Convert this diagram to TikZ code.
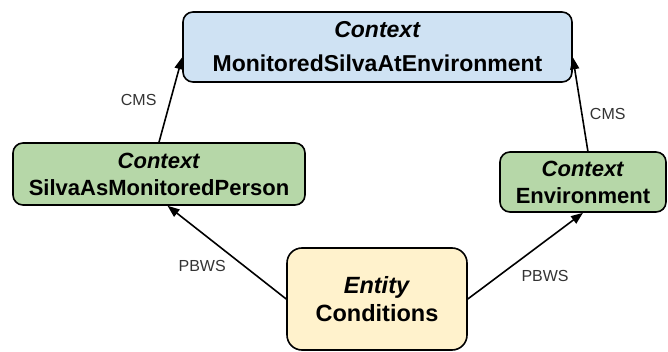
\documentclass[tikz,border=0pt]{standalone}
\usepackage{fontspec}
\setmainfont{Liberation Sans}
\usetikzlibrary{arrows.meta,positioning}
\definecolor{ctxblue}{HTML}{CFE2F3}
\definecolor{ctxgreen}{HTML}{B6D7A8}
\definecolor{entyellow}{HTML}{FFF2CC}
\definecolor{lblgray}{HTML}{333333}

\begin{document}
\begin{tikzpicture}[x=1pt,y=-1pt,
		box/.style={draw=black,line width=1.6pt,rounded corners=10pt,align=center,inner sep=0pt,
			font=\fontsize{22}{27}\selectfont\bfseries},
		rel/.style={line width=1.6pt,-{Triangle[length=12pt,width=9pt]}},
		lbl/.style={text=lblgray,font=\fontsize{16}{16}\selectfont}]

		\useasboundingbox (0,0) rectangle (668,352);

		\node[box,fill=ctxblue,minimum width=389pt,minimum height=70pt,
			font=\fontsize{23}{34}\selectfont\bfseries] (ctxtop) at (377.5,47) {\textit{Context}\\MonitoredSilvaAtEnvironment};
		\node[box,fill=ctxgreen,minimum width=292pt,minimum height=62pt] (ctxsilva) at (159,174) {\textit{Context}\\SilvaAsMonitoredPerson};
		\node[box,fill=ctxgreen,minimum width=166pt,minimum height=60pt] (ctxenv) at (583,182) {\textit{Context}\\Environment};
		\node[box,fill=entyellow,rounded corners=15pt,minimum width=180pt,minimum height=102pt,
			font=\fontsize{23.5}{28}\selectfont\bfseries] (entcond) at (377,299) {\textit{Entity}\\Conditions};

		\draw[rel] (ctxsilva.north) to node[lbl,left=10pt] (cmsl) {CMS} (ctxtop.183);
		\draw[rel] (ctxenv.81) to node[lbl,pos=0.4,right=4pt] (cmsr) {CMS} (ctxtop.357);

		\draw[rel] (entcond.west) to node[lbl,below left=4pt and -3pt] (pbwsl) {PBWS} (ctxsilva.285);
		\draw[rel] (entcond.east) to node[lbl,below right=10pt and -8pt] (pbwsr) {PBWS} (ctxenv.south);

	\end{tikzpicture}
\end{document}
